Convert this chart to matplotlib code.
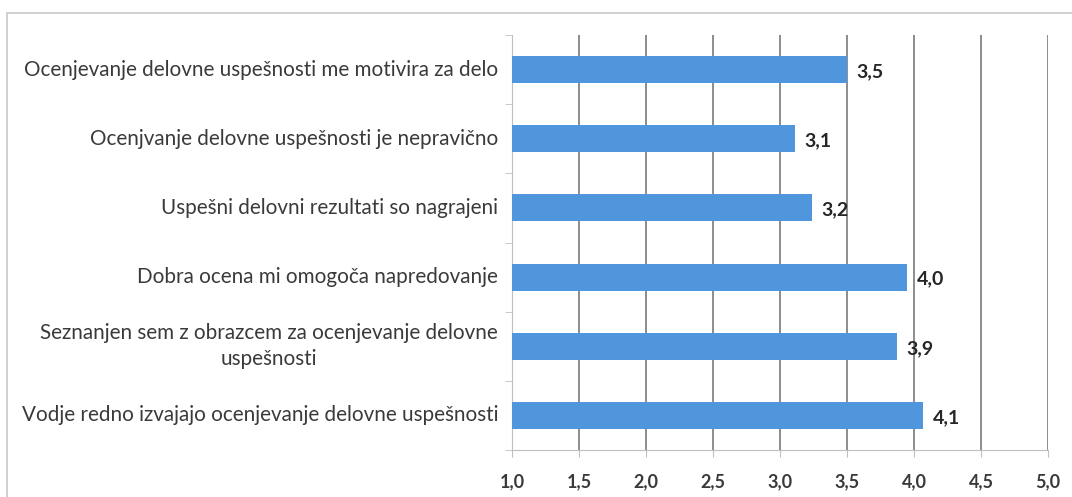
import matplotlib
matplotlib.use('Agg')
import matplotlib.pyplot as plt
from matplotlib.patches import Rectangle
from matplotlib.ticker import FixedLocator
from matplotlib.transforms import blended_transform_factory

# -----------------------------
# Data (top to bottom)
# -----------------------------
statements = [
    'Ocenjevanje delovne uspešnosti me motivira za delo',
    'Ocenjvanje delovne uspešnosti je nepravično',
    'Uspešni delovni rezultati so nagrajeni',
    'Dobra ocena mi omogoča napredovanje',
    'Seznanjen sem z obrazcem za ocenjevanje delovne\nuspešnosti',
    'Vodje redno izvajajo ocenjevanje delovne uspešnosti',
]
scores = [3.50, 3.11, 3.24, 3.95, 3.87, 4.07]
x_ticks = [1.0, 1.5, 2.0, 2.5, 3.0, 3.5, 4.0, 4.5, 5.0]

bar_color = '#5096dc'
text_color = '#3a3a3a'

plt.rcParams['font.family'] = ['Lato', 'DejaVu Sans']

fig = plt.figure(figsize=(10.72, 4.97), dpi=100)

# light outer frame of the chart area
fig.patches.append(Rectangle((7 / 1072, -0.05), 1.2, 1 - 13 / 497 + 0.05,
                             transform=fig.transFigure, fill=False,
                             edgecolor='#c8c8c8', linewidth=1.2))

ax = fig.add_axes([512 / 1072, 1 - 450 / 497, 0.5, 415 / 497])

n = len(statements)
ypos = list(range(n))
ax.barh(ypos, [s - 1.0 for s in scores], left=1.0, height=0.39,
        color=bar_color, zorder=3)

for y, s in zip(ypos, scores):
    ax.text(s + 0.07, y + 0.03, f'{s:.1f}'.replace('.', ','), va='center',
            ha='left', fontsize=14, fontweight='bold', color='#262626',
            zorder=4)

ax.set_xlim(1.0, 5.0)
ax.set_ylim(n - 0.5, -0.5)

ax.set_xticks(x_ticks)
ax.set_xticklabels([f'{t:.1f}'.replace('.', ',') for t in x_ticks],
                   fontsize=13, fontweight='bold', color=text_color)
ax.tick_params(axis='x', length=5, color='#bfbfbf', pad=12)

# category names, right-aligned to the axis, wrapped lines centred
ax.set_yticks(ypos)
ax.set_yticklabels([])
ax.tick_params(axis='y', which='major', length=0)
lbl_trans = blended_transform_factory(ax.transAxes, ax.transData)
for y, name in zip(ypos, statements):
    ax.text(-14 / 536, y, name, transform=lbl_trans, ha='right', va='center',
            multialignment='center', fontsize=14.9, color=text_color,
            linespacing=1.35)
ax.yaxis.set_minor_locator(FixedLocator([i - 0.5 for i in range(n + 1)]))
ax.tick_params(axis='y', which='minor', length=5, color='#bfbfbf')

ax.grid(axis='x', color='#6f6f6f', linewidth=1.1, zorder=0)
ax.xaxis.get_gridlines()[0].set_visible(False)
for side in ['top', 'right']:
    ax.spines[side].set_visible(False)
for side in ['left', 'bottom']:
    ax.spines[side].set_color('#bfbfbf')

plt.savefig('out.png', dpi=100)
